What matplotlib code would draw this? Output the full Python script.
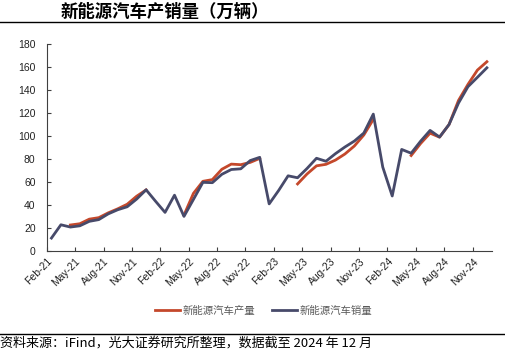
import numpy as np
import matplotlib
matplotlib.use('Agg')
import matplotlib.pyplot as plt
from matplotlib.lines import Line2D

plt.rcParams['font.family'] = ['Noto Sans CJK SC', 'DejaVu Sans']

# 月份: Feb-21 ~ Dec-24
start_year, start_month = 2021, 2
month_names = ['Jan', 'Feb', 'Mar', 'Apr', 'May', 'Jun',
               'Jul', 'Aug', 'Sep', 'Oct', 'Nov', 'Dec']
labels = []
y, m = start_year, start_month
for _ in range(47):
    labels.append(f"{month_names[m - 1]}-{str(y)[2:]}")
    m += 1
    if m > 12:
        m, y = 1, y + 1

nan = np.nan
# 新能源汽车产量（万辆）
production = [nan, nan, 22.4, 23.5, 27.5, 28.8, 33.0, 36.5, 40.5, 47.5, 53.0,
              nan, nan, nan, 31.0, 50.0, 60.5, 62.0, 71.0, 75.5, 75.0, 77.0, 80.5,
              nan, nan, nan, 58.2, 66.9, 74.0, 75.3, 79.0, 84.3, 91.3, 100.9, 114.5,
              nan, nan, nan, 83.0, 93.5, 102.5, 99.0, 110.0, 131.0, 145.0, 157.5, 164.8]
# 新能源汽车销量（万辆）
sales = [11.0, 22.6, 20.6, 21.7, 25.6, 27.1, 32.1, 35.7, 38.3, 45.0, 53.1,
         43.1, 33.4, 48.4, 29.9, 44.7, 59.6, 59.3, 66.6, 70.8, 71.4, 78.6, 81.4,
         40.8, 52.5, 65.3, 63.6, 71.7, 80.6, 78.0, 84.6, 90.4, 95.6, 102.6, 119.1,
         72.9, 47.7, 88.3, 85.0, 95.5, 104.9, 99.1, 110.0, 128.7, 143.0, 151.2, 159.5]

fig = plt.figure(figsize=(5.05, 3.49), dpi=100)
ax = fig.add_axes([0.0925, 0.2817, 0.881, 0.5914])

x = np.arange(len(labels)) + 0.5
ax.plot(x, production, color='#C4482B', linewidth=2.0, label='新能源汽车产量')
ax.plot(x, sales, color='#474A6A', linewidth=2.0, label='新能源汽车销量')

ax.set_xlim(0, len(labels))
ax.set_ylim(0, 180)
ax.set_yticks(range(0, 181, 20))
tick_pos = np.arange(0, len(labels), 3)
ax.set_xticks(tick_pos)
ax.set_xticklabels([labels[i] for i in tick_pos], rotation=45, ha='right',
                   rotation_mode='anchor', family='Liberation Sans', fontsize=7.5)
for t in ax.get_yticklabels():
    t.set_family('Liberation Sans')
    t.set_fontsize(7.5)
ax.tick_params(axis='both', direction='in', length=3, width=0.8, color='#404040',
               labelcolor='#222222')
ax.tick_params(axis='x', pad=4)
ax.tick_params(axis='y', pad=8)
for s in ['top', 'right']:
    ax.spines[s].set_visible(False)
for s in ['left', 'bottom']:
    ax.spines[s].set_color('#404040')
    ax.spines[s].set_linewidth(0.8)

fig.legend(loc='center', bbox_to_anchor=(0.522, 0.109), ncol=2, frameon=False,
           fontsize=7.5, handlelength=2.4, handletextpad=0.3, columnspacing=1.6,
           labelcolor='#595959')

# 标题与分隔线
fig.text(0.12, 0.966, '新能源汽车产销量（万辆）', fontsize=12.5, fontweight='bold',
         va='center', ha='left')
fig.add_artist(Line2D([0, 1], [0.936, 0.936], transform=fig.transFigure,
                      color='black', linewidth=1.0))
fig.add_artist(Line2D([0, 1], [0.042, 0.042], transform=fig.transFigure,
                      color='black', linewidth=1.0))
fig.text(0.0, 0.018, '资料来源：iFind，光大证券研究所整理，数据截至 2024 年 12 月',
         fontsize=9.4, va='center', ha='left')

fig.savefig('out.png', dpi=100)
plt.close(fig)
